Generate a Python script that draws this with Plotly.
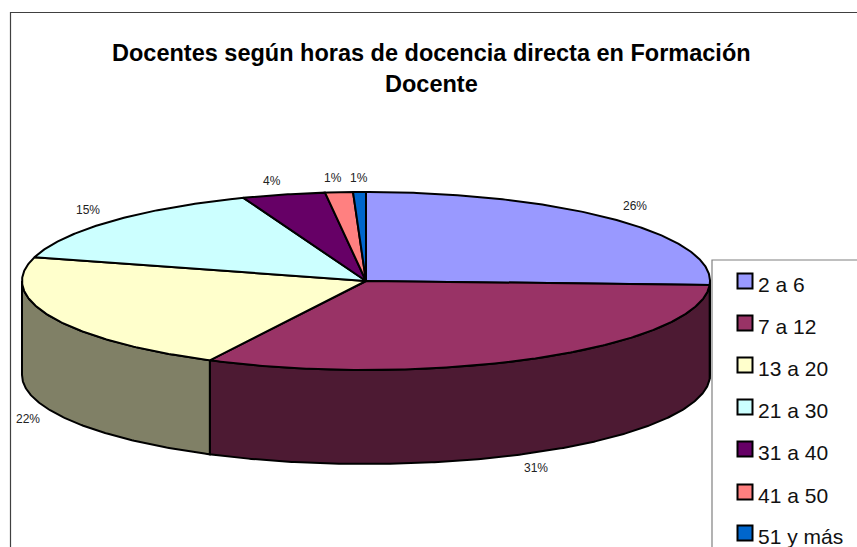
import numpy as np
import plotly.graph_objects as go

# ---- data ----
categories = ["2 a 6", "7 a 12", "13 a 20", "21 a 30", "31 a 40", "41 a 50", "51 y más"]
shares = [25.7, 31.8, 21.8, 14.9, 3.9, 1.3, 0.6]
share_labels = ["26%", "31%", "22%", "15%", "4%", "1%", "1%"]
top_colors = ["#9999FF", "#993366", "#FFFFCC", "#CCFFFF", "#660066", "#FF8080", "#0066CC"]
side_colors = ["#4D4D80", "#4D1A33", "#808066", "#668080", "#330033", "#804040", "#003366"]
title_lines = ["Docentes según horas de docencia directa en Formación", "Docente"]

# ---- layout constants (pixels in the 857x547 page) ----
W, H = 857, 547
CX, CY, RX, RY = 366.0, 281.0, 344.0, 89.0
DEPTH = 94.0 / RY
label_px = [(635, 206), (536, 468), (28, 419), (88, 210), (272, 181), (333, 178), (359, 178)]
legend_y = [281, 323, 365, 407, 449, 492, 533]
FONT = "Liberation Sans, Arial, sans-serif"


def px(x):
    return x / W


def py(y):
    return 1 - y / H


def arc(a, b):
    n = max(2, int(abs(b - a) * 2) + 2)
    t = np.radians(np.linspace(a, b, n))
    return np.sin(t), np.cos(t)


fig = go.Figure()
edges = np.cumsum([0] + shares) / sum(shares) * 360
line = dict(color="black", width=2)

# side wall: only the front half of the pie (90..270 degrees) is visible
for i in range(len(shares)):
    a, b = max(edges[i], 90), min(edges[i + 1], 270)
    if b <= a:
        continue
    x, y = arc(a, b)
    fig.add_trace(go.Scatter(
        x=np.r_[x, x[::-1], x[0]], y=np.r_[y, y[::-1] - DEPTH, y[0]],
        mode="lines", fill="toself", fillcolor=side_colors[i], line=line,
        showlegend=False, hoverinfo="skip"))

# top face
for i, name in enumerate(categories):
    x, y = arc(edges[i], edges[i + 1])
    fig.add_trace(go.Scatter(
        x=np.r_[0, x, 0], y=np.r_[0, y, 0], name=name,
        mode="lines", fill="toself", fillcolor=top_colors[i], line=line,
        showlegend=False, hoverinfo="name"))

shapes = [
    dict(type="rect", xref="paper", yref="paper", x0=px(10.5), y0=py(570), x1=px(900), y1=py(12.5),
         line=dict(color="#404040", width=1.2), fillcolor="rgba(0,0,0,0)", layer="below"),
    dict(type="rect", xref="paper", yref="paper", x0=px(712), y0=py(570), x1=px(900), y1=py(260),
         line=dict(color="#808080", width=1.2), fillcolor="white"),
]
annotations = []
for j, (line_text, ty) in enumerate(zip(title_lines, [53, 84])):
    annotations.append(dict(text="<b>%s</b>" % line_text, xref="paper", yref="paper", x=px(431), y=py(ty),
                            xanchor="center", yanchor="middle", showarrow=False,
                            font=dict(family=FONT, size=23.5, color="black")))
for txt, (lx, ly) in zip(share_labels, label_px):
    annotations.append(dict(text=txt, xref="paper", yref="paper", x=px(lx), y=py(ly),
                            xanchor="center", yanchor="middle", showarrow=False,
                            font=dict(family=FONT, size=12, color="#222222")))
for name, col, ly in zip(categories, top_colors, legend_y):
    shapes.append(dict(type="rect", xref="paper", yref="paper", x0=px(737.5), x1=px(752.5),
                       y0=py(ly + 7.5), y1=py(ly - 7.5), fillcolor=col,
                       line=dict(color="black", width=2)))
    annotations.append(dict(text=name, xref="paper", yref="paper", x=px(755.5), y=py(ly + 3.5),
                            xanchor="left", yanchor="middle", showarrow=False,
                            font=dict(family=FONT, size=21, color="#111111")))

fig.update_layout(
    width=W, height=H, margin=dict(l=0, r=0, t=0, b=0), autosize=False,
    paper_bgcolor="white", plot_bgcolor="white", shapes=shapes, annotations=annotations,
    xaxis=dict(range=[-CX / RX, (W - CX) / RX], visible=False, fixedrange=True),
    yaxis=dict(range=[(CY - H) / RY, CY / RY], visible=False, fixedrange=True),
)
fig.write_html("out.html", config={"displayModeBar": False},
               post_script="document.body.style.margin='0';document.body.style.overflow='hidden';")
